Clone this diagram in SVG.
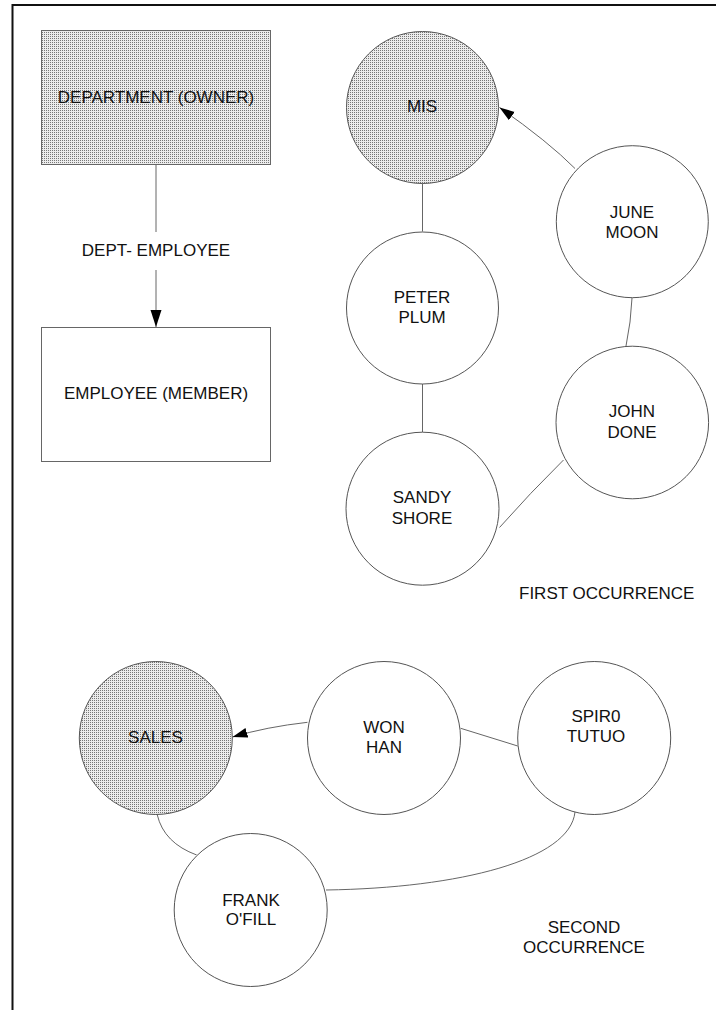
<svg xmlns="http://www.w3.org/2000/svg" width="716" height="1010" viewBox="0 0 716 1010">
  <style>
    text { font-family: "Liberation Sans", Arial, sans-serif; font-size: 17px; fill: #111; text-anchor: middle; }
    .box { stroke: #666; stroke-width: 1; }
    .node { stroke: #555; stroke-width: 1; }
    .plain { fill: #fff; }
    .owner { fill: url(#stipple); }
    .link { fill: none; stroke: #666; stroke-width: 1; }
    .frame { fill: none; stroke: #111; stroke-width: 2; }
  </style>
  <defs>
    <!-- dotted shading used for owner records -->
    <pattern id="stipple" width="2" height="2" patternUnits="userSpaceOnUse">
      <rect width="2" height="2" fill="#ececec"/>
      <rect width="1" height="1" fill="#777"/>
    </pattern>
    <marker id="arrow" markerUnits="userSpaceOnUse" markerWidth="18" markerHeight="12" refX="17" refY="5.5" orient="auto">
      <path d="M0,0 L17,5.5 L0,11 Z" fill="#000"/>
    </marker>
    <marker id="arrowSmall" markerUnits="userSpaceOnUse" markerWidth="16" markerHeight="12" refX="15" refY="5" orient="auto">
      <path d="M0,0 L15,5 L0,10 Z" fill="#000"/>
    </marker>
  </defs>

  <rect width="716" height="1010" fill="#fff"/>
  <path class="frame" d="M12.5,1010 V5 H716"/>

  <!-- set type definition -->
  <g id="department">
    <rect class="box owner" x="41.5" y="30.5" width="229" height="134"/>
    <text x="156" y="103">DEPARTMENT (OWNER)</text>
  </g>
  <g id="employee">
    <rect class="box plain" x="41.5" y="327.5" width="229" height="134"/>
    <text x="156" y="399">EMPLOYEE (MEMBER)</text>
  </g>

  <g id="connectors">
    <line class="link" x1="156" y1="164.5" x2="156" y2="232"/>
    <line class="link" x1="156" y1="270" x2="156" y2="327" stroke="#000" marker-end="url(#arrow)"/>
    <!-- first occurrence -->
    <path class="link" d="M575,168.5 Q548.4,141.7 499.5,107.5" marker-end="url(#arrowSmall)"/>
    <line class="link" x1="422.5" y1="183.5" x2="422.5" y2="231.5"/>
    <line class="link" x1="422.5" y1="384" x2="422.5" y2="432"/>
    <path class="link" d="M632,298 Q631,322 626,346"/>
    <path class="link" d="M563.5,460 Q530,493 499.5,527.5"/>
    <!-- second occurrence -->
    <path class="link" d="M307.5,722.3 Q266.3,726.9 232.5,737" marker-end="url(#arrowSmall)"/>
    <line class="link" x1="460.7" y1="728.3" x2="517.7" y2="746"/>
    <path class="link" d="M575,812 C570,860 460,888 326,890"/>
    <path class="link" d="M157.3,815 Q164,843 196.7,855"/>
  </g>
  <g id="label-dept-employee">
    <text x="156" y="256">DEPT- EMPLOYEE</text>
  </g>

  <g id="mis">
    <circle class="node owner" cx="422.5" cy="107.5" r="76"/>
    <text x="422" y="112">MIS</text>
  </g>
  <g id="peter-plum">
    <circle class="node plain" cx="422.5" cy="308" r="76"/>
    <text x="422" y="302.5">PETER</text>
    <text x="422" y="323.3">PLUM</text>
  </g>
  <g id="june-moon">
    <circle class="node plain" cx="632.3" cy="221.7" r="76"/>
    <text x="632" y="218.3">JUNE</text>
    <text x="632" y="238">MOON</text>
  </g>
  <g id="john-done">
    <circle class="node plain" cx="632.3" cy="422.5" r="76.3"/>
    <text x="632" y="417.3">JOHN</text>
    <text x="632" y="438.3">DONE</text>
  </g>
  <g id="sandy-shore">
    <circle class="node plain" cx="422.5" cy="508.7" r="76.5"/>
    <text x="422" y="503.3">SANDY</text>
    <text x="422" y="524">SHORE</text>
  </g>
  <g id="label-first">
    <text x="606.7" y="599.3">FIRST OCCURRENCE</text>
  </g>

  <g id="sales">
    <circle class="node owner" cx="155.8" cy="738" r="76.5"/>
    <text x="155.5" y="742.7">SALES</text>
  </g>
  <g id="won-han">
    <circle class="node plain" cx="384" cy="738" r="76.5"/>
    <text x="384" y="733.3">WON</text>
    <text x="384" y="753.3">HAN</text>
  </g>
  <g id="spiro-tutuo">
    <circle class="node plain" cx="594.2" cy="738" r="76.5"/>
    <text x="596" y="722.3">SPIR0</text>
    <text x="596" y="742.3">TUTUO</text>
  </g>
  <g id="frank-ofill">
    <circle class="node plain" cx="250.7" cy="910" r="76.5"/>
    <text x="251" y="905.7">FRANK</text>
    <text x="251" y="925">O'FILL</text>
  </g>
  <g id="label-second">
    <text x="584" y="933.3">SECOND</text>
    <text x="584" y="953.3">OCCURRENCE</text>
  </g>
</svg>
